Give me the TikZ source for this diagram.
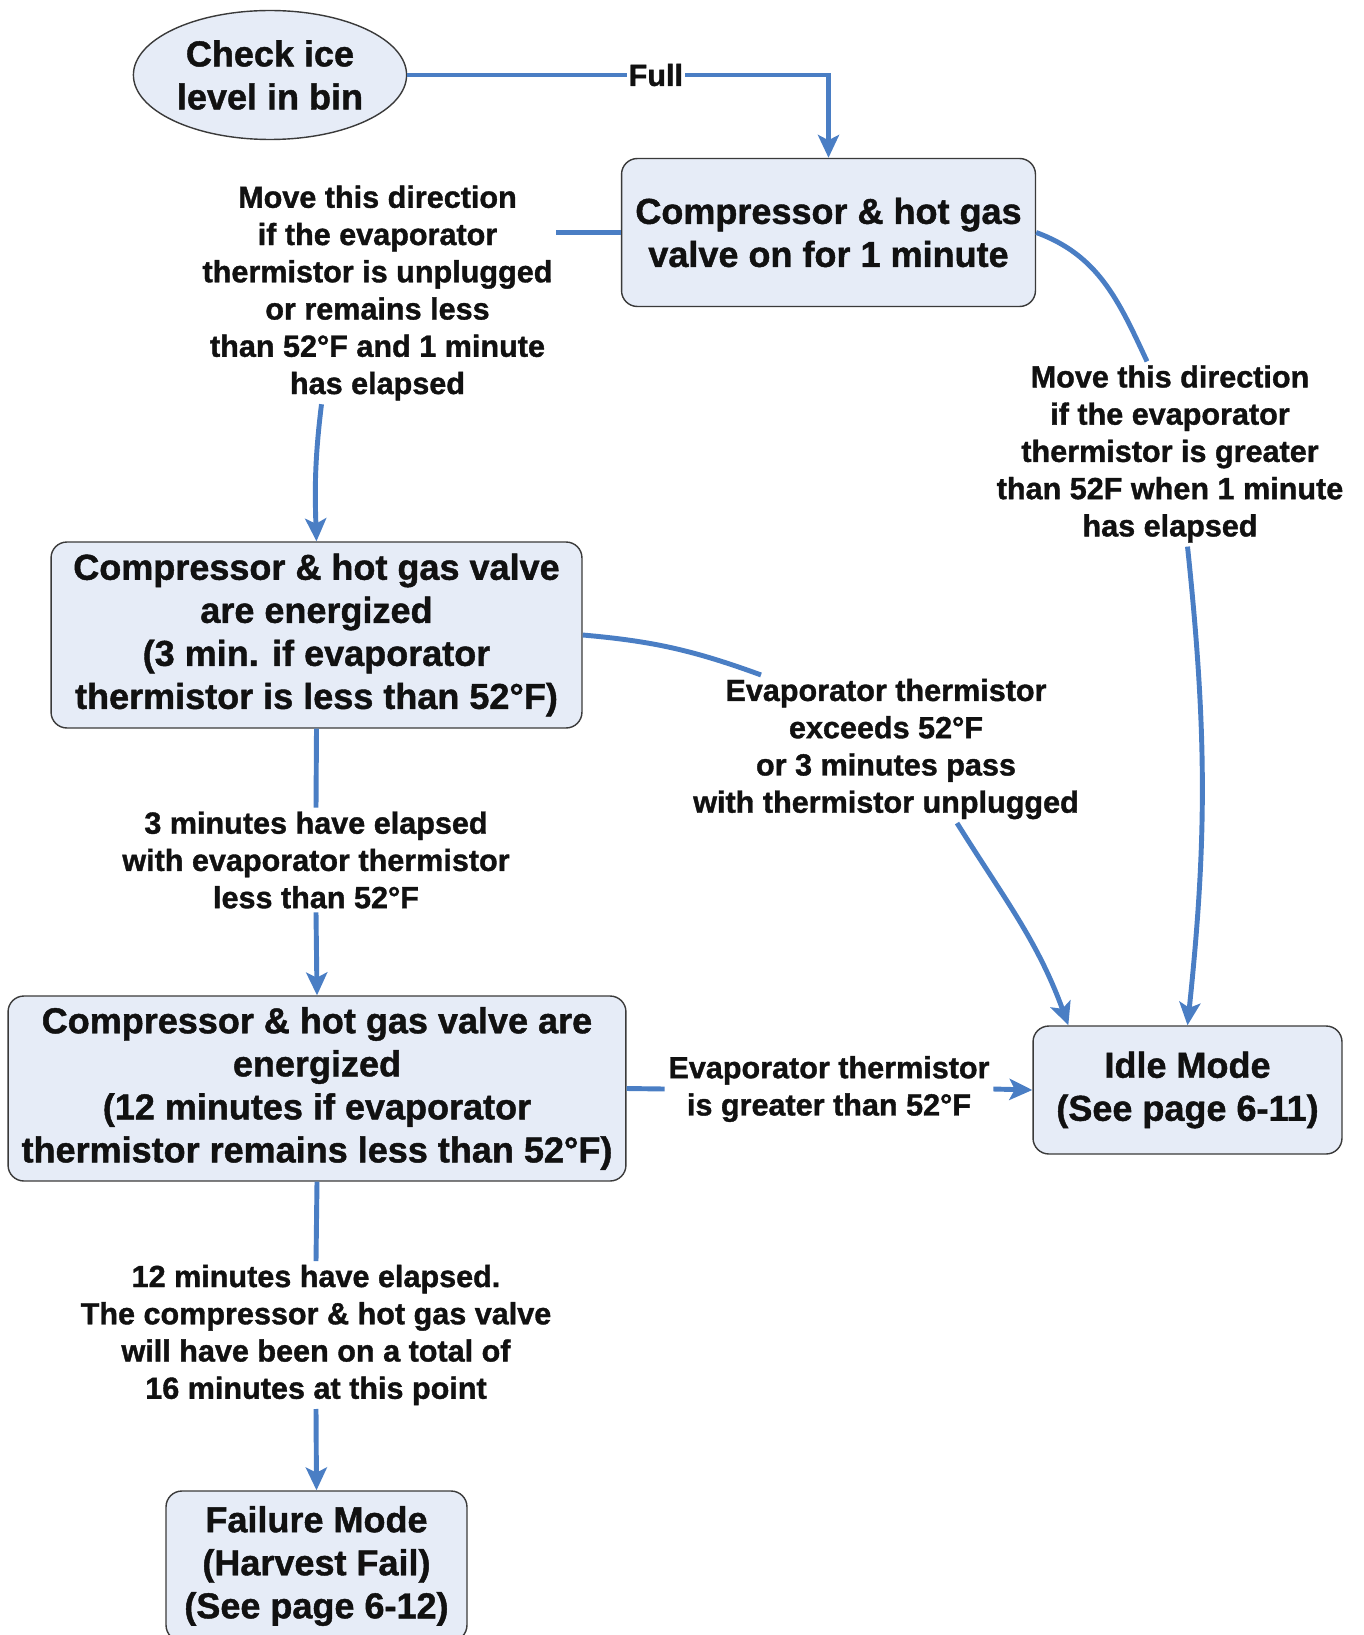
\documentclass[tikz,border=0pt]{standalone}
\usepackage{fontspec}
\setmainfont{Liberation Sans}[BoldFont={Liberation Sans Bold}, BoldFeatures={FakeBold=1.2}]
\usetikzlibrary{arrows.meta, calc, shapes.geometric}
\definecolor{ink}{HTML}{111111}
\definecolor{edge}{HTML}{3A3A3A}
\definecolor{boxfill}{HTML}{E6ECF7}
\definecolor{flowblue}{HTML}{4A7EC4}
\tikzset{
  >={Stealth[length=13pt, width=12pt, inset=3pt]},
  %
  box/.style={
    draw=edge, line width=0.8pt, fill=boxfill, rounded corners=9pt,
    inner sep=2pt, align=center, text=ink,
    font=\bfseries\fontsize{20.5}{24.5}\selectfont,
  },
  oval/.style={box, ellipse, rounded corners=0pt},
  %
  lbl/.style={font=\bfseries\fontsize{17.4}{21.2}\selectfont, text=ink,
              align=center, inner sep=2pt},
  %
  flow/.style={draw=flowblue, line width=2.8pt, ->},
  link/.style={draw=flowblue, line width=2.8pt},
}

\begin{document}
\begin{tikzpicture}[x=0.02cm, y=0.02cm]

  \useasboundingbox (0,0) rectangle (1363,-1635);

  \node[oval, minimum width=5.18cm, minimum height=2.58cm]
    (bin) at (270,-75) {Check ice\\level in bin};
  \node[box, minimum width=8.28cm, minimum height=2.96cm]
    (hg1) at (828.5,-232.5) {Compressor \& hot gas\\valve on for 1 minute};
  \node[box, minimum width=10.62cm, minimum height=3.72cm]
    (hg3) at (316.5,-635) {Compressor \& hot gas valve\\are energized\\(3 min. if evaporator\\thermistor is less than 52°F)};
  \node[box, minimum width=12.36cm, minimum height=3.7cm]
    (hg12) at (317,-1088.5) {Compressor \& hot gas valve are\\energized\\(12 minutes if evaporator\\thermistor remains less than 52°F)};
  \node[box, minimum width=6.18cm, minimum height=2.56cm]
    (idle) at (1187.5,-1090) {Idle Mode\\(See page 6-11)};
  \node[box, minimum width=6.02cm, minimum height=3.0cm]
    (fail) at (316.5,-1566) {Failure Mode\\(Harvest Fail)\\(See page 6-12)};

  \node[lbl] (lblleft) at (377.5,-293)
    {Move this direction\\if the evaporator\\thermistor is unplugged\\or remains less\\than 52°F and 1 minute\\has elapsed};
  \node[lbl] (lblright) at (1170,-454)
    {Move this direction\\if the evaporator\\thermistor is greater\\than 52F when 1 minute\\has elapsed};
  \node[lbl] (lblmid) at (886,-749)
    {Evaporator thermistor\\exceeds 52°F\\or 3 minutes pass\\with thermistor unplugged};
  \node[lbl] (lbl3) at (316,-860)
    {3 minutes have elapsed\\with evaporator thermistor\\less than 52°F};
  \node[lbl] (lblgt) at (829,-1089)
    {Evaporator thermistor\\is greater than 52°F};
  \node[lbl] (lbl12) at (316,-1335)
    {12 minutes have elapsed.\\The compressor \& hot gas valve\\will have been on a total of\\16 minutes at this point};

  \draw[flow] (bin.east) -| node[lbl, fill=white, inner sep=1pt, pos=0.295] {Full} (hg1.north);

  \draw[link] (hg1.west) -- (lblleft.east |- hg1.west);
  \draw[flow] ($(lblleft.south -| hg3.north)+(5,0)$) to[out=-97, in=92] (hg3.north);

  \draw[link] (hg1.east) to[out=-20, in=115] ($(lblright.north)+(-23,0)$);
  \draw[flow] (lblright.south -| idle.north) to[out=-84, in=84] (idle.north);

  \draw[link] (hg3.east) to[out=-5, in=160] ($(lblmid.north)+(-125,0)$);
  \draw[flow] ($(lblmid.south)+(71,0)$) to[out=-58, in=110] ($(idle.north west)+(36,0)$);

  \draw[link] (hg3.south) -- (lbl3.north);
  \draw[flow] (lbl3.south) -- (hg12.north);

  \draw[link] (hg12.east) -- (lblgt.west);
  \draw[flow] (lblgt.east) -- (idle.west);

  \draw[link] (hg12.south) -- (lbl12.north);
  \draw[flow] (lbl12.south) -- (fail.north);

\end{tikzpicture}
\end{document}
